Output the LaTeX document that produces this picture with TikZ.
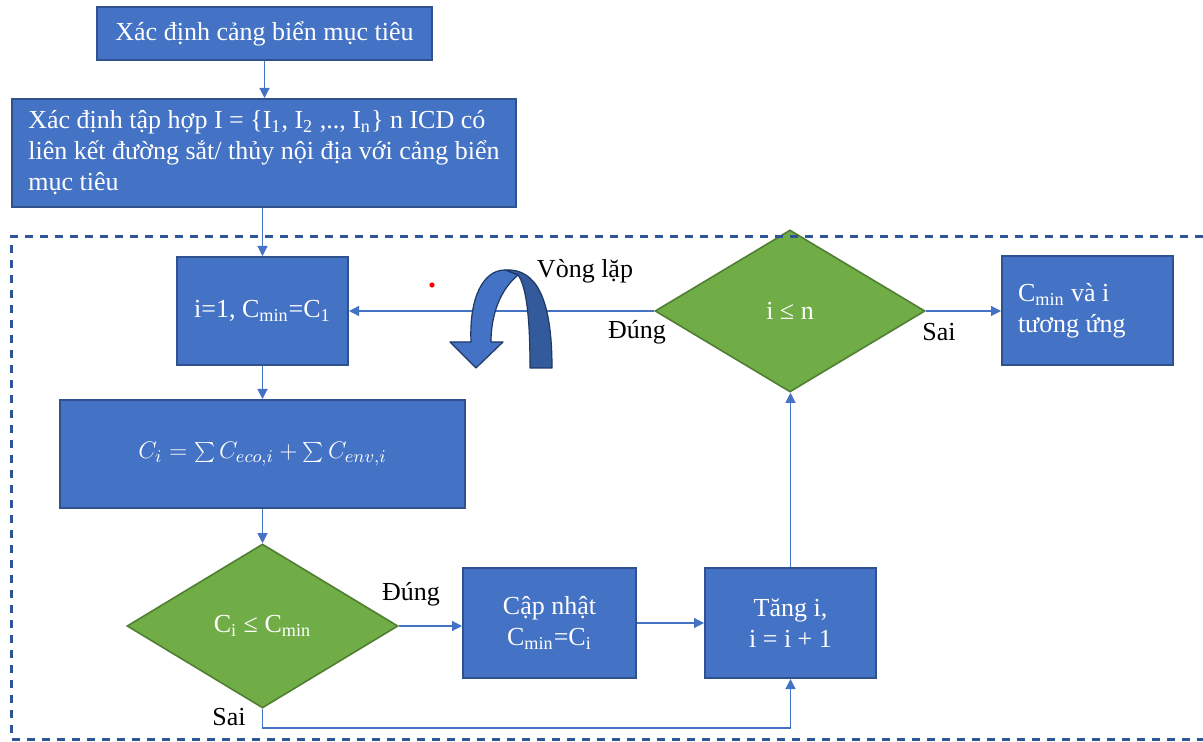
\documentclass[tikz,border=0pt]{standalone}
\usepackage{fontspec}
\setmainfont{Liberation Serif}
\usetikzlibrary{shapes.geometric,arrows.meta}
\definecolor{boxblue}{HTML}{4472C4}
\definecolor{boxedge}{HTML}{2F528F}
\definecolor{dgreen}{HTML}{70AD47}
\definecolor{dgedge}{HTML}{507E32}
\definecolor{dashblue}{HTML}{2F5597}
\definecolor{arcdark}{HTML}{335A9A}
\definecolor{arcline}{HTML}{1F3864}
\newcommand\sbx[1]{\textsubscript{#1}}
\begin{document}
\begin{tikzpicture}[x=0.5pt,y=-0.5pt,
  every node/.style={font=\fontsize{13}{15.5}\selectfont},
  bluebox/.style={draw=boxedge, line width=1pt, fill=boxblue, text=white, inner sep=0pt, align=center},
  decision/.style={diamond, draw=dgedge, line width=0.8pt, fill=dgreen, text=white, inner sep=0pt, aspect=1.65},
  conn/.style={draw=boxblue, line width=0.6pt, -{Triangle[length=5pt,width=5pt]}},
  lbl/.style={text=black, inner sep=0pt},
  arcfront/.style={fill=boxblue, draw=arcline, line width=0.6pt, line join=round},
  arcback/.style={fill=arcdark, draw=arcline, line width=0.6pt, line join=round},
  dashframe/.style={draw=dashblue, line width=1.5pt, dash pattern=on 4pt off 3.5pt}]
\useasboundingbox (0,0) rectangle (1203,742);

% boxes
\node[bluebox, minimum width=167.5pt, minimum height=26.5pt] (b1) at (264.5,33.5) {Xác định cảng biển mục tiêu};
\node[bluebox, minimum width=252pt, minimum height=54pt, align=flush left] (b2) at (264,153)
  {Xác định tập hợp I = \{I\sbx{1}, I\sbx{2} ,.., I\sbx{n}\} n ICD có\\liên kết đường sắt/ thủy nội địa với cảng biển\\mục tiêu};
\node[bluebox, minimum width=85.5pt, minimum height=54pt] (b3) at (262.5,311) {i=1, C\sbx{min}=C\sbx{1}};
\node[bluebox, minimum width=202.5pt, minimum height=54pt] (b4) at (262.5,454) {$C_i = \sum C_{eco,i} + \sum C_{env,i}$};
\node[decision, minimum width=135.5pt, minimum height=82pt] (d1) at (262.5,626) {C\sbx{i} ≤ C\sbx{min}};
\node[bluebox, minimum width=86.5pt, minimum height=55pt] (b5) at (549.5,623) {Cập nhật\\C\sbx{min}=C\sbx{i}};
\node[bluebox, minimum width=85.5pt, minimum height=55pt] (b6) at (790.5,623) {Tăng i,\\i = i + 1};
\node[decision, minimum width=135pt, minimum height=81pt] (d2) at (790,311) {i ≤ n};
\node[bluebox, minimum width=85.5pt, minimum height=54.5pt, align=flush left, text width=69.5pt] (b7) at (1087.5,310.5) {C\sbx{min} và i\\tương ứng};

% connectors
\draw[conn] (b1.south) -- (b1.south |- b2.north);
\draw[conn] (b3.north |- b2.south) -- (b3.north);
\draw[conn] (b3) -- (b4);
\draw[conn] (b4) -- (d1);
\draw[conn] (d1.east) -- (d1.east -| b5.west);
\draw[conn] (b5) -- (b6);
\draw[conn] (b6.north) -- (b6.north |- d2.south);
\draw[conn] (d2.west) -- (d2.west -| b3.east);
\draw[conn] (d2.east) -- (d2.east -| b7.west);
\coordinate (lp) at (0,728);
\draw[conn] (d1.south) -- (d1.south |- lp) -| (b6.south);

% labels
\node[lbl] (l1) at (585,271) {Vòng lặp};
\node[lbl] (l2) at (637,332) {Đúng};
\node[lbl] (l3) at (939,332) {Sai};
\node[lbl] (l4) at (411,594) {Đúng};
\node[lbl] (l5) at (229,717) {Sai};

% loop arrow symbol
\path[arcback] (505,270) .. controls (537,268) and (552,300) .. (552,368)
  -- (530,368) .. controls (530,322) and (527,287) .. (518,275) -- cycle;
\path[arcfront] (471,342) .. controls (469,298) and (483,270) .. (505,270)
  -- (518,275) .. controls (500,290) and (491,315) .. (491,342)
  -- (503,342) -- (476,368) -- (450,342) -- cycle;

% red dot
\fill[red] (432,285) circle (1.3pt);

% dashed frame
\draw[dashframe] (1203,237) -- (11,237) -- (11,739) -- (1203,739);
\end{tikzpicture}
\end{document}
